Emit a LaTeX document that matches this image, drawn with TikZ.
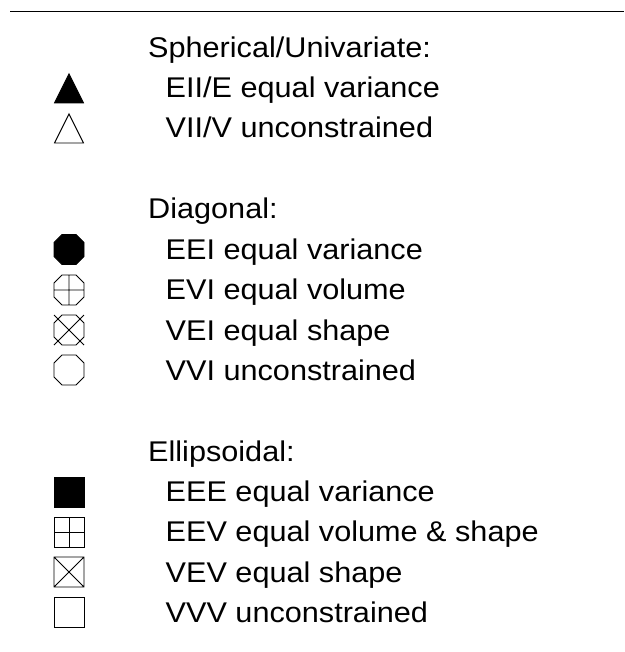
\documentclass[tikz,border=0pt]{standalone}
\usepackage{fontspec}
\setmainfont{Liberation Sans}[FakeStretch=1.075]
\usepackage{tikz}
\usetikzlibrary{positioning}

\begin{document}
\begin{tikzpicture}[x=1pt, y=-1pt, every node/.style={inner sep=0pt, anchor=base west, font=\fontsize{28.5}{28.5}\selectfont}]
    \useasboundingbox (0,0) rectangle (624,652);
    \tikzset{sym/.style={line width=0.9pt, line join=miter}}

    % top rule
    \draw[line width=0.8pt] (10,11) -- (624,11);

    % headers and entries
    \node (sph) at (148,57.5) {Spherical/Univariate:};
    \node (eii) at (165.5,98) {EII/E equal variance};
    \node (vii) at (165.5,138) {VII/V unconstrained};
    \node (diag) at (148,218.5) {Diagonal:};
    \node (eei) at (165.5,259) {EEI equal variance};
    \node (evi) at (165.5,299.5) {EVI equal volume};
    \node (vei) at (165.5,340) {VEI equal shape};
    \node (vvi) at (165.5,380) {VVI unconstrained};
    \node (ell) at (148,461) {Ellipsoidal:};
    \node (eee) at (165.5,501.5) {EEE equal variance};
    \node (eev) at (165.5,541.5) {EEV equal volume \& shape};
    \node (vev) at (165.5,582) {VEV equal shape};
    \node (vvv) at (165.5,622) {VVV unconstrained};

    % triangles
    \draw[sym, fill=black, shift={(69,88.5)}] (0,-14.5) -- (14.5,14.5) -- (-14.5,14.5) -- cycle;
    \draw[sym, shift={(69,128.5)}] (0,-14.5) -- (14.5,14.5) -- (-14.5,14.5) -- cycle;

    % octagons
    \draw[sym, fill=black, shift={(69,249.5)}] (-7,-15) -- (7,-15) -- (15,-7) -- (15,7) -- (7,15) -- (-7,15) -- (-15,7) -- (-15,-7) -- cycle;
    \draw[sym, shift={(69,290)}] (-7,-15) -- (7,-15) -- (15,-7) -- (15,7) -- (7,15) -- (-7,15) -- (-15,7) -- (-15,-7) -- cycle
        (0,-15) -- (0,15) (-15,0) -- (15,0);
    \draw[sym, shift={(69,330)}] (-7,-15) -- (7,-15) -- (15,-7) -- (15,7) -- (7,15) -- (-7,15) -- (-15,7) -- (-15,-7) -- cycle
        (-15,-15) -- (15,15) (-15,15) -- (15,-15);
    \draw[sym, shift={(69,370)}] (-7,-15) -- (7,-15) -- (15,-7) -- (15,7) -- (7,15) -- (-7,15) -- (-15,7) -- (-15,-7) -- cycle;

    % squares
    \draw[sym, fill=black, shift={(69,492)}] (-15,-15) rectangle (15,15);
    \draw[sym, shift={(69,532)}] (-15,-15) rectangle (15,15) (0,-15) -- (0,15) (-15,0) -- (15,0);
    \draw[sym, shift={(69,572)}] (-15,-15) rectangle (15,15) (-15,-15) -- (15,15) (-15,15) -- (15,-15);
    \draw[sym, shift={(69,612)}] (-15,-15) rectangle (15,15);
\end{tikzpicture}
\end{document}
